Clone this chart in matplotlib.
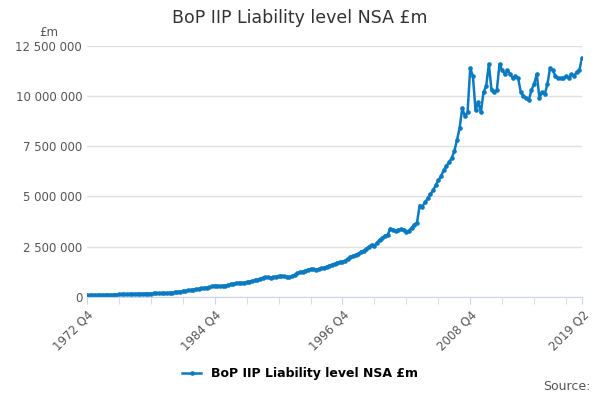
import matplotlib
matplotlib.use("Agg")
import matplotlib.pyplot as plt
import matplotlib.ticker as mticker

# quarterly values, thousands of £m, 1972 Q4 .. 2019 Q2
values_k = [
    80,
    85, 88, 90, 92,
    95, 98, 100, 103,
    105, 108, 110, 115,
    118, 122, 128, 132,
    135, 140, 145, 150,
    152, 155, 158, 162,
    165, 168, 172, 178,
    182, 190, 200, 210,
    225, 240, 260, 280,
    300, 320, 340, 360,
    380, 400, 420, 440,
    460, 480, 520, 560,
    540, 530, 550, 560,
    600, 620, 650, 680,
    700, 680, 700, 720,
    760, 790, 820, 860,
    900, 940, 970, 980,
    960, 970, 1000, 1020,
    1040, 1030, 1000, 990,
    1020, 1100, 1180, 1230,
    1260, 1300, 1350, 1380,
    1370, 1360, 1380, 1420,
    1450, 1500, 1550, 1600,
    1650, 1700, 1720, 1750,
    1800, 1900, 2000, 2050,
    2100, 2150, 2250, 2300,
    2400, 2500, 2600, 2550,
    2700, 2850, 2950, 3050,
    3100, 3400, 3350, 3300,
    3350, 3380, 3350, 3250,
    3300, 3450, 3600, 3700,
    4550, 4500, 4700, 4900,
    5100, 5300, 5550, 5800,
    6000, 6300, 6500, 6700,
    6900, 7250, 7800, 8400,
    9400, 9000, 9200, 11400,
    11000, 9300, 9700, 9200,
    10200, 10500, 11600, 10300,
    10200, 10300, 11600, 11300,
    11100, 11300, 11100, 10900,
    11000, 10900, 10200, 10000,
    9900, 9800, 10300, 10600,
    11100, 9900, 10200, 10100,
    10600, 11400, 11300, 11000,
    10900, 10900, 10900, 11000,
    10900, 11100, 11000, 11200,
    11300, 11900,
]
labels = []
y, q = 1972, 4
for _ in values_k:
    labels.append(f"{y} Q{q}")
    q += 1
    if q > 4:
        q, y = 1, y + 1
tick_labels = ["1972 Q4", "1984 Q4", "1996 Q4", "2008 Q4", "2019 Q2"]

values = [v * 1000 for v in values_k]
x = list(range(len(values)))

fig = plt.figure(figsize=(6, 4), dpi=100)
ax = fig.add_axes([0.145, 0.258, 0.825, 0.627])
col = "#0a7bc1"
ax.plot(x, values, color=col, lw=1.8, marker="o", ms=2.3, label="BoP IIP Liability level NSA £m")

ax.set_xlim(0, len(values) - 1)
ax.set_ylim(0, 12500000)
ax.set_yticks(range(0, 12500001, 2500000))
ax.yaxis.set_major_formatter(mticker.FuncFormatter(lambda v, p: f"{int(v):,}".replace(",", " ")))
ax.set_xticks(range(0, len(values), 12), minor=True)
ax.set_xticks([labels.index(t) for t in tick_labels])
ax.set_xticklabels(tick_labels, rotation=45, ha="right", rotation_mode="anchor")
ax.tick_params(axis="x", which="both", length=5, color="#ccd6eb", labelsize=8.5, labelcolor="#555555")
ax.tick_params(axis="y", length=0, labelsize=8.5, labelcolor="#555555")
ax.grid(axis="y", color="#e0e0e0", lw=1)
for s in ["top", "right", "left"]:
    ax.spines[s].set_visible(False)
ax.spines["bottom"].set_color("#ccd6eb")

fig.text(0.5, 0.955, "BoP IIP Liability level NSA £m", ha="center", va="center", fontsize=12.5, color="#333333")
fig.text(0.065, 0.92, "£m", fontsize=8.5, color="#555555", va="center")
fig.legend(loc="center", bbox_to_anchor=(0.5, 0.065), frameon=False,
           prop={"weight": "bold", "size": 9}, handlelength=1.5)
fig.text(0.985, 0.025, "Source:", ha="right", fontsize=9, color="#555555")
fig.savefig("out.png")
